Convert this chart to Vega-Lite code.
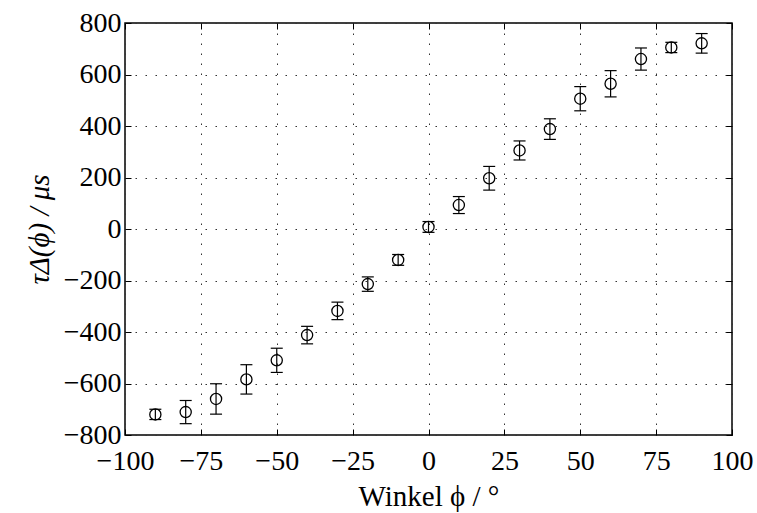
{
  "$schema": "https://vega.github.io/schema/vega-lite/v6.json",
  "autosize": {"type": "none"},
  "width": 607,
  "height": 412,
  "padding": {"left": 125, "top": 23, "right": 25, "bottom": 78},
  "background": "white",
  "config": {
    "view": {"stroke": "black", "strokeWidth": 1.5},
    "font": "Liberation Serif",
    "axis": {
      "labelFont": "Liberation Serif",
      "titleFont": "Liberation Serif",
      "labelFontSize": 28,
      "titleFontSize": 29,
      "titleFontWeight": "normal",
      "labelColor": "black",
      "titleColor": "black",
      "domain": false,
      "tickColor": "black",
      "tickSize": -6,
      "tickWidth": 1,
      "gridColor": "#333333",
      "gridDash": [1.5, 8.5],
      "gridWidth": 1,
      "gridOpacity": 1
    }
  },
  "data": {
    "values": [
      {"phi": -90, "tau": -720, "err": 20},
      {"phi": -80, "tau": -711, "err": 45},
      {"phi": -70, "tau": -660, "err": 59},
      {"phi": -60, "tau": -584, "err": 57},
      {"phi": -50, "tau": -510, "err": 47},
      {"phi": -40, "tau": -412, "err": 34},
      {"phi": -30, "tau": -318, "err": 34},
      {"phi": -20, "tau": -214, "err": 28},
      {"phi": -10, "tau": -120, "err": 21},
      {"phi": 0, "tau": 8, "err": 21},
      {"phi": 10, "tau": 93, "err": 33},
      {"phi": 20, "tau": 197, "err": 46},
      {"phi": 30, "tau": 305, "err": 37},
      {"phi": 40, "tau": 388, "err": 40},
      {"phi": 50, "tau": 506, "err": 47},
      {"phi": 60, "tau": 564, "err": 51},
      {"phi": 70, "tau": 660, "err": 43},
      {"phi": 80, "tau": 705, "err": 20},
      {"phi": 90, "tau": 721, "err": 38}
    ]
  },
  "transform": [
    {"calculate": "datum.tau - datum.err", "as": "lo"},
    {"calculate": "datum.tau + datum.err", "as": "hi"}
  ],
  "layer": [
    {
      "layer": [
        {
          "mark": {"type": "rule", "color": "black", "strokeWidth": 1.2},
          "encoding": {
            "x": {
              "field": "phi", "type": "quantitative",
              "scale": {"domain": [-100, 100], "nice": false},
              "axis": {"values": [-100, -75, -50, -25, 0, 25, 50, 75, 100], "title": "Winkel ϕ / °", "labelPadding": 18, "titlePadding": 7, "labelFlush": false}
            },
            "y": {
              "field": "lo", "type": "quantitative",
              "scale": {"domain": [-800, 800], "nice": false},
              "axis": {"values": [-800, -600, -400, -200, 0, 200, 400, 600, 800], "title": "τΔ(ϕ) / μs", "titleFontStyle": "italic", "labelPadding": 10, "titlePadding": 9, "labelFlush": false}
            },
            "y2": {"field": "hi"}
          }
        },
        {
          "mark": {"type": "tick", "color": "black", "orient": "horizontal", "size": 12, "thickness": 1.2, "opacity": 1},
          "encoding": {
            "x": {"field": "phi", "type": "quantitative"},
            "y": {"field": "lo", "type": "quantitative"}
          }
        },
        {
          "mark": {"type": "tick", "color": "black", "orient": "horizontal", "size": 12, "thickness": 1.2, "opacity": 1},
          "encoding": {
            "x": {"field": "phi", "type": "quantitative"},
            "y": {"field": "hi", "type": "quantitative"}
          }
        },
        {
          "mark": {"type": "point", "shape": "circle", "filled": false, "color": "black", "size": 125, "strokeWidth": 1.3, "opacity": 1},
          "encoding": {
            "x": {"field": "phi", "type": "quantitative"},
            "y": {"field": "tau", "type": "quantitative"}
          }
        }
      ],
      "resolve": {"axis": {"x": "shared", "y": "shared"}}
    },
    {
      "mark": {"type": "point", "opacity": 0},
      "encoding": {
        "x": {
          "field": "phi", "type": "quantitative",
          "axis": {"orient": "top", "values": [-100, -75, -50, -25, 0, 25, 50, 75, 100], "labels": false, "title": null, "grid": false}
        },
        "y": {
          "field": "tau", "type": "quantitative",
          "axis": {"orient": "right", "values": [-800, -600, -400, -200, 0, 200, 400, 600, 800], "labels": false, "title": null, "grid": false}
        }
      }
    }
  ],
  "resolve": {"axis": {"x": "independent", "y": "independent"}}
}
